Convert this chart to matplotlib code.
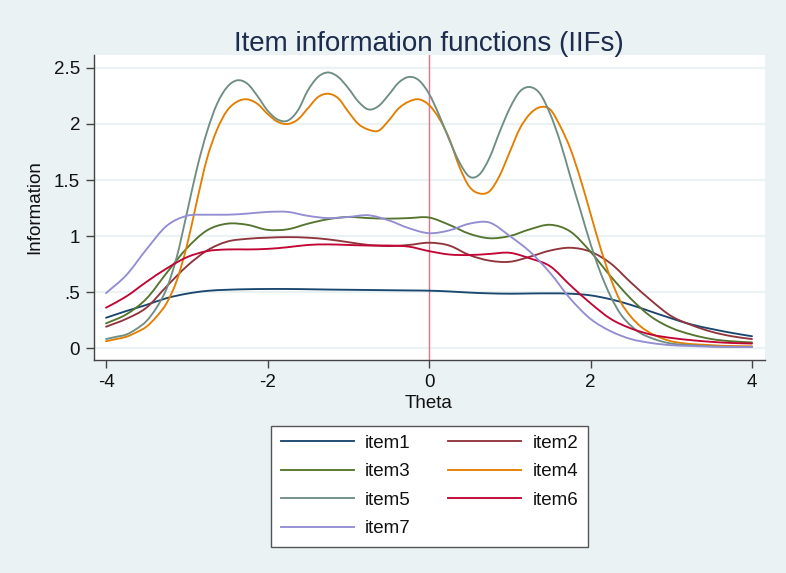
import numpy as np
import matplotlib
matplotlib.use("Agg")
import matplotlib.pyplot as plt
from matplotlib.lines import Line2D
from matplotlib.path import Path
from matplotlib.patches import PathPatch

# ---- data ----
theta = [-4.0, -3.75, -3.5, -3.25, -3.0, -2.75, -2.5, -2.25, -2.0, -1.75, -1.5, -1.25,
         -1.0, -0.75, -0.5, -0.25, 0.0, 0.25, 0.5, 0.75, 1.0, 1.25, 1.5, 1.75,
         2.0, 2.25, 2.5, 2.75, 3.0, 3.25, 3.5, 3.75, 4.0]

item1 = [0.27, 0.33, 0.385, 0.445, 0.485, 0.51, 0.52, 0.525, 0.527, 0.527, 0.525, 0.522,
         0.52, 0.518, 0.516, 0.514, 0.512, 0.505, 0.495, 0.488, 0.485, 0.487, 0.488, 0.485,
         0.47, 0.435, 0.385, 0.325, 0.265, 0.21, 0.17, 0.135, 0.105]

item2 = [0.19, 0.26, 0.36, 0.55, 0.73, 0.87, 0.95, 0.975, 0.985, 0.99, 0.985, 0.97,
         0.945, 0.92, 0.91, 0.92, 0.94, 0.915, 0.83, 0.78, 0.77, 0.815, 0.87, 0.895,
         0.86, 0.755, 0.585, 0.425, 0.285, 0.205, 0.145, 0.105, 0.08]

item3 = [0.22, 0.30, 0.44, 0.67, 0.89, 1.05, 1.11, 1.10, 1.055, 1.06, 1.11, 1.15,
         1.17, 1.16, 1.155, 1.16, 1.165, 1.10, 1.02, 0.98, 1.00, 1.06, 1.10, 1.04,
         0.86, 0.64, 0.44, 0.28, 0.18, 0.12, 0.08, 0.06, 0.05]

item6 = [0.36, 0.46, 0.59, 0.71, 0.81, 0.865, 0.88, 0.88, 0.885, 0.90, 0.92, 0.925,
         0.92, 0.915, 0.915, 0.905, 0.865, 0.835, 0.83, 0.84, 0.85, 0.80, 0.73, 0.56,
         0.40, 0.26, 0.175, 0.12, 0.09, 0.07, 0.055, 0.045, 0.04]

item7 = [0.49, 0.65, 0.88, 1.09, 1.18, 1.19, 1.19, 1.20, 1.215, 1.215, 1.18, 1.16,
         1.17, 1.185, 1.14, 1.07, 1.025, 1.05, 1.11, 1.12, 1.00, 0.86, 0.67, 0.44,
         0.26, 0.15, 0.08, 0.045, 0.025, 0.018, 0.012, 0.01, 0.008]

theta_fine = [-4.0, -3.875, -3.75, -3.625, -3.5, -3.375, -3.25, -3.125, -3.0, -2.875,
              -2.75, -2.625, -2.5, -2.375, -2.25, -2.125, -2.0, -1.875, -1.75, -1.625,
              -1.5, -1.375, -1.25, -1.125, -1.0, -0.875, -0.75, -0.625, -0.5, -0.375,
              -0.25, -0.125, 0.0, 0.125, 0.25, 0.375, 0.5, 0.625, 0.75, 0.875,
              1.0, 1.125, 1.25, 1.375, 1.5, 1.625, 1.75, 1.875, 2.0, 2.125,
              2.25, 2.375, 2.5, 2.625, 2.75, 2.875, 3.0, 3.125, 3.25, 3.375,
              3.5, 3.625, 3.75, 3.875, 4.0]

item4 = [0.06, 0.08, 0.10, 0.14, 0.19, 0.28, 0.40, 0.60, 0.91, 1.31,
         1.69, 1.95, 2.12, 2.20, 2.22, 2.18, 2.09, 2.02, 2.00, 2.04,
         2.14, 2.24, 2.27, 2.23, 2.11, 2.00, 1.95, 1.94, 2.03, 2.14,
         2.20, 2.22, 2.17, 2.05, 1.87, 1.62, 1.44, 1.38, 1.40, 1.54,
         1.75, 1.96, 2.09, 2.15, 2.13, 1.98, 1.78, 1.51, 1.20, 0.89,
         0.62, 0.41, 0.28, 0.19, 0.13, 0.09, 0.06, 0.045, 0.035, 0.03,
         0.025, 0.02, 0.018, 0.016, 0.015]

item5 = [0.08, 0.10, 0.12, 0.17, 0.24, 0.36, 0.53, 0.81, 1.20, 1.60,
         1.93, 2.18, 2.33, 2.39, 2.36, 2.25, 2.12, 2.04, 2.03, 2.12,
         2.30, 2.42, 2.46, 2.42, 2.32, 2.20, 2.13, 2.16, 2.26, 2.37,
         2.42, 2.39, 2.27, 2.08, 1.86, 1.66, 1.53, 1.55, 1.70, 1.93,
         2.14, 2.29, 2.33, 2.27, 2.09, 1.84, 1.53, 1.23, 0.93, 0.67,
         0.46, 0.30, 0.20, 0.13, 0.09, 0.06, 0.04, 0.03, 0.025, 0.02,
         0.015, 0.012, 0.01, 0.01, 0.01]

labels = ["item1", "item2", "item3", "item4", "item5", "item6", "item7"]
colors = ["#1a476f", "#90353b", "#55752f", "#e37e00", "#6e8e84", "#c10534", "#938dd2"]

yticks = [0, 0.5, 1, 1.5, 2, 2.5]
yticklabels = ["0", ".5", "1", "1.5", "2", "2.5"]
xticks = [-4, -2, 0, 2, 4]
xticklabels = ["-4", "-2", "0", "2", "4"]


def smooth_path(xs, ys):
    """Catmull-Rom spline through the read points, drawn as cubic Bezier segments."""
    p = np.column_stack([xs, ys]).astype(float)
    ext = np.vstack([2 * p[0] - p[1], p, 2 * p[-1] - p[-2]])
    verts = [p[0]]
    codes = [Path.MOVETO]
    for i in range(1, len(ext) - 2):
        p0, p1, p2, p3 = ext[i - 1], ext[i], ext[i + 1], ext[i + 2]
        c1 = p1 + (p2 - p0) / 6.0
        c2 = p2 - (p3 - p1) / 6.0
        verts += [c1, c2, p2]
        codes += [Path.CURVE4] * 3
    return Path(np.array(verts), codes)


# ---- figure ----
plt.rcParams['font.family'] = ['Liberation Sans', 'DejaVu Sans']
bg = "#eaf2f3"
W, H = 786, 573
fig = plt.figure(figsize=(W / 100, H / 100), dpi=100, facecolor=bg)
ax = fig.add_axes([94 / W, 1 - 360 / H, (765 - 94) / W, (360 - 55) / H])
ax.set_facecolor("white")

series = [(theta, item1), (theta, item2), (theta, item3), (theta_fine, item4),
          (theta_fine, item5), (theta, item6), (theta, item7)]
handles = []
LW = 1.35
for (xs, ys), lab, col in zip(series, labels, colors):
    patch = PathPatch(smooth_path(xs, ys), facecolor="none", edgecolor=col, lw=LW,
                      zorder=3, capstyle="round", joinstyle="round")
    ax.add_patch(patch)
    handles.append(Line2D([], [], color=col, lw=LW, label=lab))

ax.axvline(0, color="#e8708a", lw=1.0, zorder=2)

ax.set_xlim(-4.149, 4.161)
ax.set_ylim(-0.107, 2.616)
ax.set_yticks(yticks)
ax.set_yticklabels(yticklabels)
ax.set_xticks(xticks)
ax.set_xticklabels(xticklabels)
ax.yaxis.grid(True, color=bg, lw=1.6, zorder=0)
ax.set_axisbelow(True)

for s in ["top", "right"]:
    ax.spines[s].set_visible(False)
for s in ["left", "bottom"]:
    ax.spines[s].set_color("#444444")
    ax.spines[s].set_linewidth(1.0)
ax.tick_params(axis="both", direction="out", length=6, width=1.0, color="#444444",
               labelsize=13.5, labelcolor="#111111", pad=4)

fig.text(429 / W, 1 - 50.7 / H, "Item information functions (IIFs)", ha="center",
         va="baseline", fontsize=20, color="#1c2b4e")
fig.text(429 / W, 1 - 404 / H, "Theta", ha="center", va="center", fontsize=13.5,
         color="#111111")
fig.text(35 / W, 1 - 207.5 / H, "Information", ha="center", va="center", rotation=90,
         fontsize=13.5, color="#111111")

order = [0, 2, 4, 6, 1, 3, 5]
leg = fig.legend([handles[i] for i in order], [labels[i] for i in order],
                 loc="upper center", bbox_to_anchor=(429.5 / W, 1 - 425.5 / H),
                 borderaxespad=0.0,
                 ncol=2, fontsize=13.5, frameon=True, fancybox=False,
                 edgecolor="#555555", facecolor="white", framealpha=1,
                 handlelength=3.9, handletextpad=0.6, columnspacing=2.0,
                 labelspacing=0.6, borderpad=0.5)
leg.get_frame().set_linewidth(1.0)
for t in leg.get_texts():
    t.set_color("#111111")

fig.savefig("out.png", dpi=100, facecolor=bg)
